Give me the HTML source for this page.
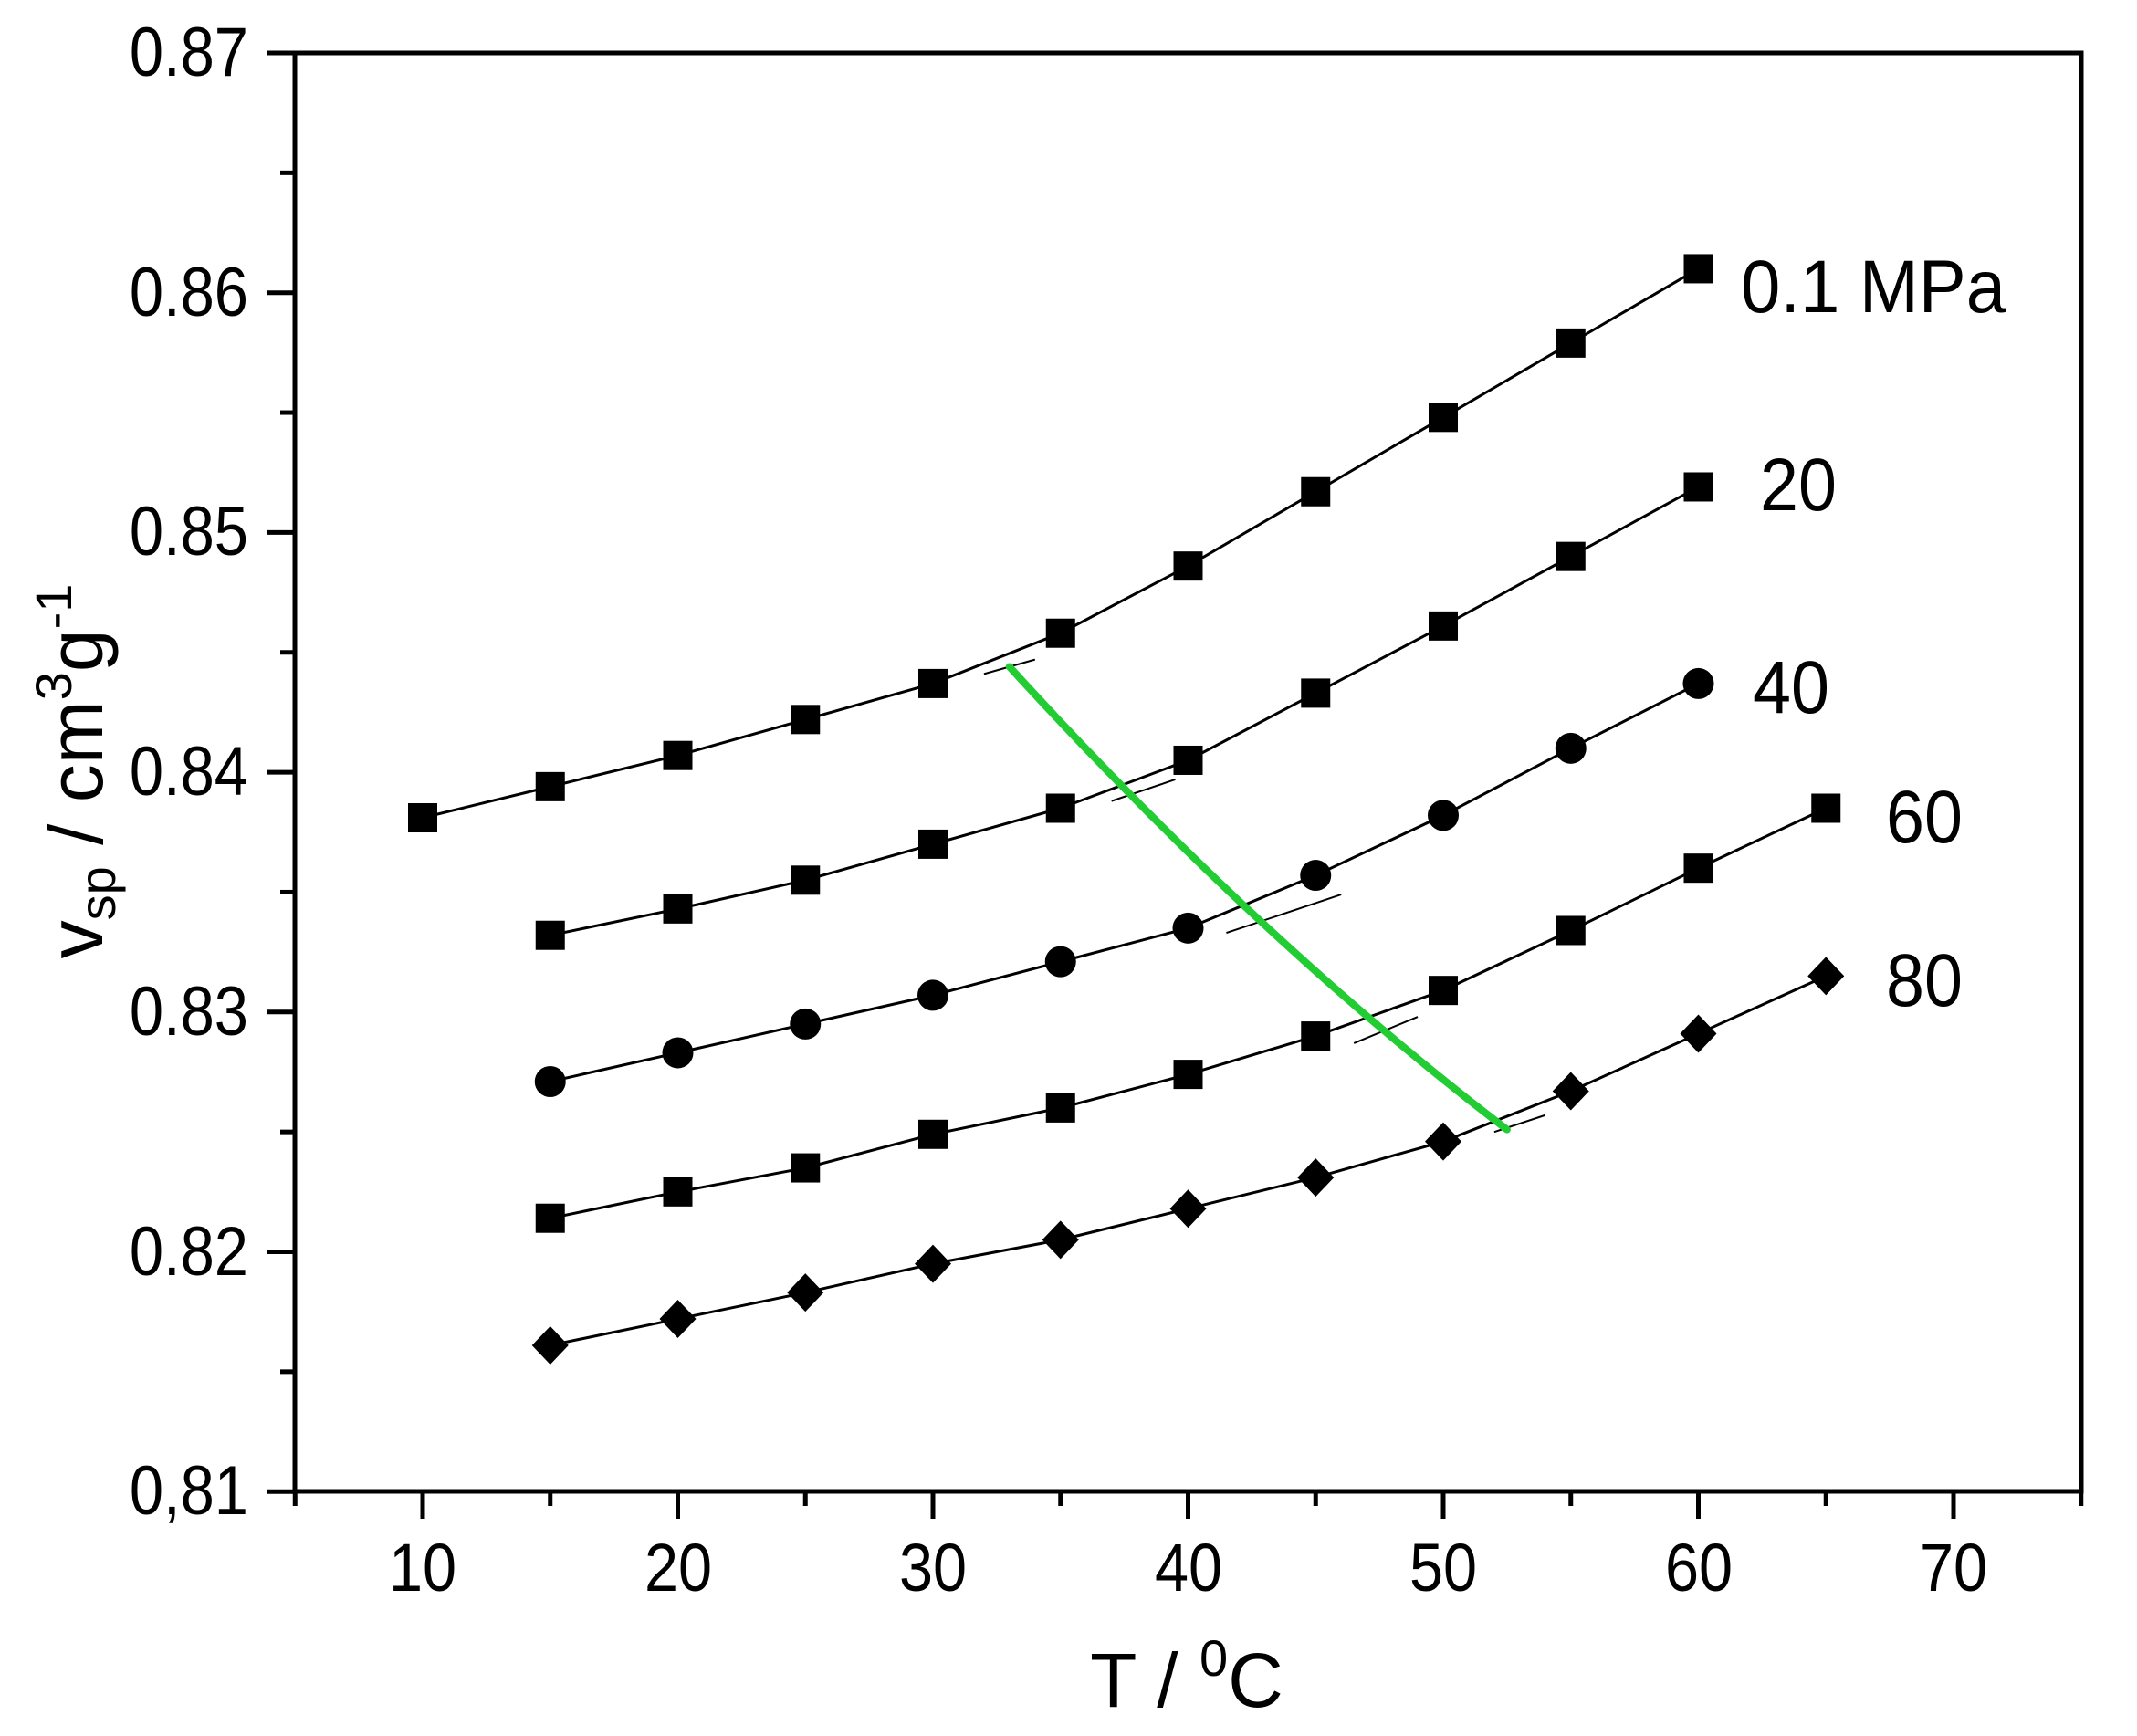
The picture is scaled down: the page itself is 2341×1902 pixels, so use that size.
<!DOCTYPE html>
<html><head><meta charset="utf-8"><style>
html,body{margin:0;padding:0;background:#fff;}
svg{display:block;font-family:"Liberation Sans",Arial,sans-serif;}
</style></head><body>
<svg id="s" width="2341" height="1902" viewBox="0 0 2341 1902" xmlns="http://www.w3.org/2000/svg">
<rect width="2341" height="1902" fill="#fff"/>
<g id="plot"></g>
<g stroke="#000" stroke-width="5" fill="none">
<rect x="323" y="58" width="1957" height="1576"/>
</g>
<g id="ticks" stroke="#000" stroke-width="5"></g>
<g font-size="76" fill="#000" text-anchor="end">
<text transform="translate(272,83) scale(0.88,1)">0.87</text>
<text transform="translate(272,346) scale(0.88,1)">0.86</text>
<text transform="translate(272,608) scale(0.88,1)">0.85</text>
<text transform="translate(272,871) scale(0.88,1)">0.84</text>
<text transform="translate(272,1134) scale(0.88,1)">0.83</text>
<text transform="translate(272,1397) scale(0.88,1)">0.82</text>
<text transform="translate(272,1659) scale(0.88,1)">0,81</text>
</g>
<g font-size="74" fill="#000" text-anchor="middle">
<text transform="translate(463,1743) scale(0.9,1)">10</text>
<text transform="translate(743,1743) scale(0.9,1)">20</text>
<text transform="translate(1022,1743) scale(0.9,1)">30</text>
<text transform="translate(1302,1743) scale(0.9,1)">40</text>
<text transform="translate(1581,1743) scale(0.9,1)">50</text>
<text transform="translate(1861,1743) scale(0.9,1)">60</text>
<text transform="translate(2140,1743) scale(0.9,1)">70</text>
</g>
<text x="1300" y="1870" font-size="84" text-anchor="middle">T / <tspan font-size="56" dy="-34">0</tspan><tspan dy="34">C</tspan></text>
<text transform="translate(112,845) rotate(-90)" font-size="84" text-anchor="middle">v<tspan font-size="56" dy="14">sp</tspan><tspan dy="-14"> / cm</tspan><tspan font-size="56" dy="-34">3</tspan><tspan dy="34">g</tspan><tspan font-size="56" dy="-34">-1</tspan></text>
<g font-size="82" fill="#000">
<text transform="translate(1907,342) scale(0.95,1)">0.1 MPa</text>
<text transform="translate(1928,559) scale(0.92,1)">20</text>
<text transform="translate(1920,781) scale(0.92,1)">40</text>
<text transform="translate(2066,923) scale(0.92,1)">60</text>
<text transform="translate(2066,1102) scale(0.92,1)">80</text>
</g>
</svg>
<script>
var NS="http://www.w3.org/2000/svg";
function X(t){return 463+(t-10)*27.95;}
function Y(v){return 58+(0.87-v)*26270;}
function el(n,a,p){var e=document.createElementNS(NS,n);for(var k in a)e.setAttribute(k,a[k]);p.appendChild(e);return e;}
var tk=document.getElementById("ticks");
for(var t=5;t<=75;t+=5){var maj=(t%10==0);el("line",{x1:X(t),y1:1634,x2:X(t),y2:1634+(maj?30:16)},tk);}
for(var i=0;i<=12;i++){var v=0.81+i*0.005;var maj=(i%2==0);el("line",{x1:323-(maj?30:16),y1:Y(v),x2:323,y2:Y(v)},tk);}
var series=[
{m:"s",d:[[10,.8381],[15,.8394],[20,.8407],[25,.8422],[30,.8437],[35,.8458],[40,.8486],[45,.8517],[50,.8548],[55,.8579],[60,.8610]]},
{m:"s",d:[[15,.8332],[20,.8343],[25,.8355],[30,.8370],[35,.8385],[40,.8405],[45,.8433],[50,.8461],[55,.8490],[60,.8519]]},
{m:"c",d:[[15,.8271],[20,.8283],[25,.8295],[30,.8307],[35,.8321],[40,.8335],[45,.8357],[50,.8382],[55,.8410],[60,.8437]]},
{m:"s",d:[[15,.8214],[20,.8225],[25,.8235],[30,.8249],[35,.8260],[40,.8274],[45,.8290],[50,.8309],[55,.8334],[60,.8360],[65,.8385]]},
{m:"d",d:[[15,.8161],[20,.8172],[25,.8183],[30,.8195],[35,.8205],[40,.8218],[45,.8231],[50,.8246],[55,.8267],[60,.8291],[65,.8315]]}];
var g=document.getElementById("plot");
series.forEach(function(s){
 var pts=s.d.map(function(p){return X(p[0])+","+Y(p[1]);}).join(" ");
 el("polyline",{points:pts,fill:"none",stroke:"#000","stroke-width":3},g);
});
// small extrapolation dashes at breaks
[[32,.8441,34,.8447],[37,.8388,39.5,.8397],[41.5,.8333,46,.8349],[46.5,.8287,49,.8298],[52,.8250,54,.8257]].forEach(function(a){
 el("line",{x1:X(a[0]),y1:Y(a[1]),x2:X(a[2]),y2:Y(a[3]),stroke:"#000","stroke-width":2},g);});
var gp=[];
for(var k=0;k<=40;k++){var t=33+k*(52.5-33)/40;
 var u=(t-33)/19.5; var v=0.8444-0.0193*(1.18*u-0.18*u*u);
 gp.push(X(t)+","+Y(v));}
el("polyline",{points:gp.join(" "),fill:"none",stroke:"#22cc33","stroke-width":8,"stroke-linecap":"round"},g);
series.forEach(function(s){
 s.d.forEach(function(p){var x=X(p[0]),y=Y(p[1]);
  if(s.m=="s")el("rect",{x:x-16,y:y-16,width:32,height:32,fill:"#000"},g);
  else if(s.m=="c")el("circle",{cx:x,cy:y,r:17,fill:"#000"},g);
  else el("polygon",{points:(x)+","+(y-21)+" "+(x+20)+","+y+" "+x+","+(y+21)+" "+(x-20)+","+y,fill:"#000"},g);
 });
});
</script>
</body></html>
